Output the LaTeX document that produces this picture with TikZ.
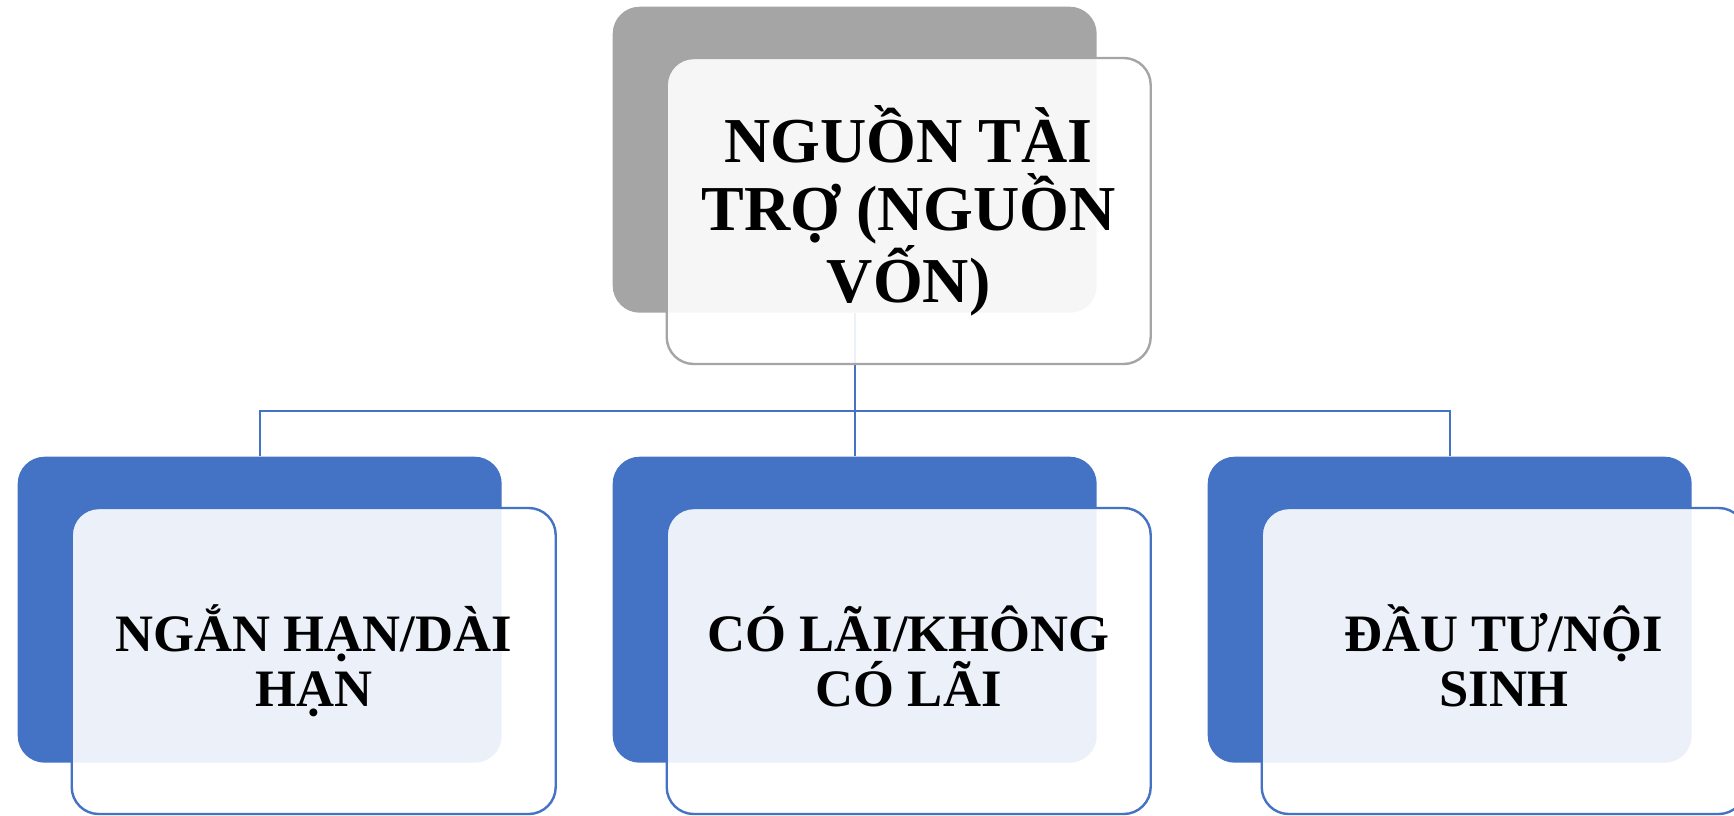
\documentclass[tikz,border=0pt]{standalone}
\usepackage{fontspec}
\setmainfont{Liberation Serif}
\definecolor{accent}{HTML}{4472C4}
\definecolor{grayacc}{HTML}{A5A5A5}
\newcommand{\topline}{\vphantom{ẮỒ}}
\newcommand{\botline}{\vphantom{ẠỢ)}}
\begin{document}
\begin{tikzpicture}[x=0.5pt,y=-0.5pt,
  backbox/.style={rectangle, rounded corners=13.5pt, minimum width=242pt, minimum height=153pt, inner sep=0pt},
  frontbox/.style={rectangle, rounded corners=13.5pt, minimum width=242pt, minimum height=153pt, inner sep=0pt,
    fill=white, fill opacity=0.9, text opacity=1, line width=1.2pt, align=center, text=black},
  bigtext/.style={font=\bfseries\fontsize{32}{33.75}\selectfont},
  smalltext/.style={font=\bfseries\fontsize{26.3}{27.5}\selectfont},
  conn/.style={draw=accent, line width=1.2pt}]
\useasboundingbox (0,0) rectangle (1734,815);
\clip (0,0) rectangle (1734,815);
% back boxes
\node[backbox, fill=grayacc] (b0) at (854.7,159.7) {};
\node[backbox, fill=accent] (b1) at (259.7,609.7) {};
\node[backbox, fill=accent] (b2) at (854.7,609.7) {};
\node[backbox, fill=accent] (b3) at (1449.7,609.7) {};
% connectors
\coordinate (bus) at (854.7,410.7);
\draw[conn] (b0.south) -- (bus);
\draw[conn] (b1.north) |- (bus) -| (b3.north);
\draw[conn] (bus) -- (b2.north);
% front boxes with text
\node[frontbox, draw=grayacc, bigtext] (f0) at (908.7,211) {\topline NGUỒN TÀI\\TRỢ (NGUỒN\\VỐN)\botline};
\node[frontbox, draw=accent, smalltext] (f1) at (313.7,661) {\topline NGẮN HẠN/DÀI\\HẠN\botline};
\node[frontbox, draw=accent, smalltext] (f2) at (908.7,661) {\topline CÓ LÃI/KHÔNG\\CÓ LÃI\botline};
\node[frontbox, draw=accent, smalltext] (f3) at (1503.7,661) {\topline ĐẦU TƯ/NỘI\\SINH\botline};
\end{tikzpicture}
\end{document}
